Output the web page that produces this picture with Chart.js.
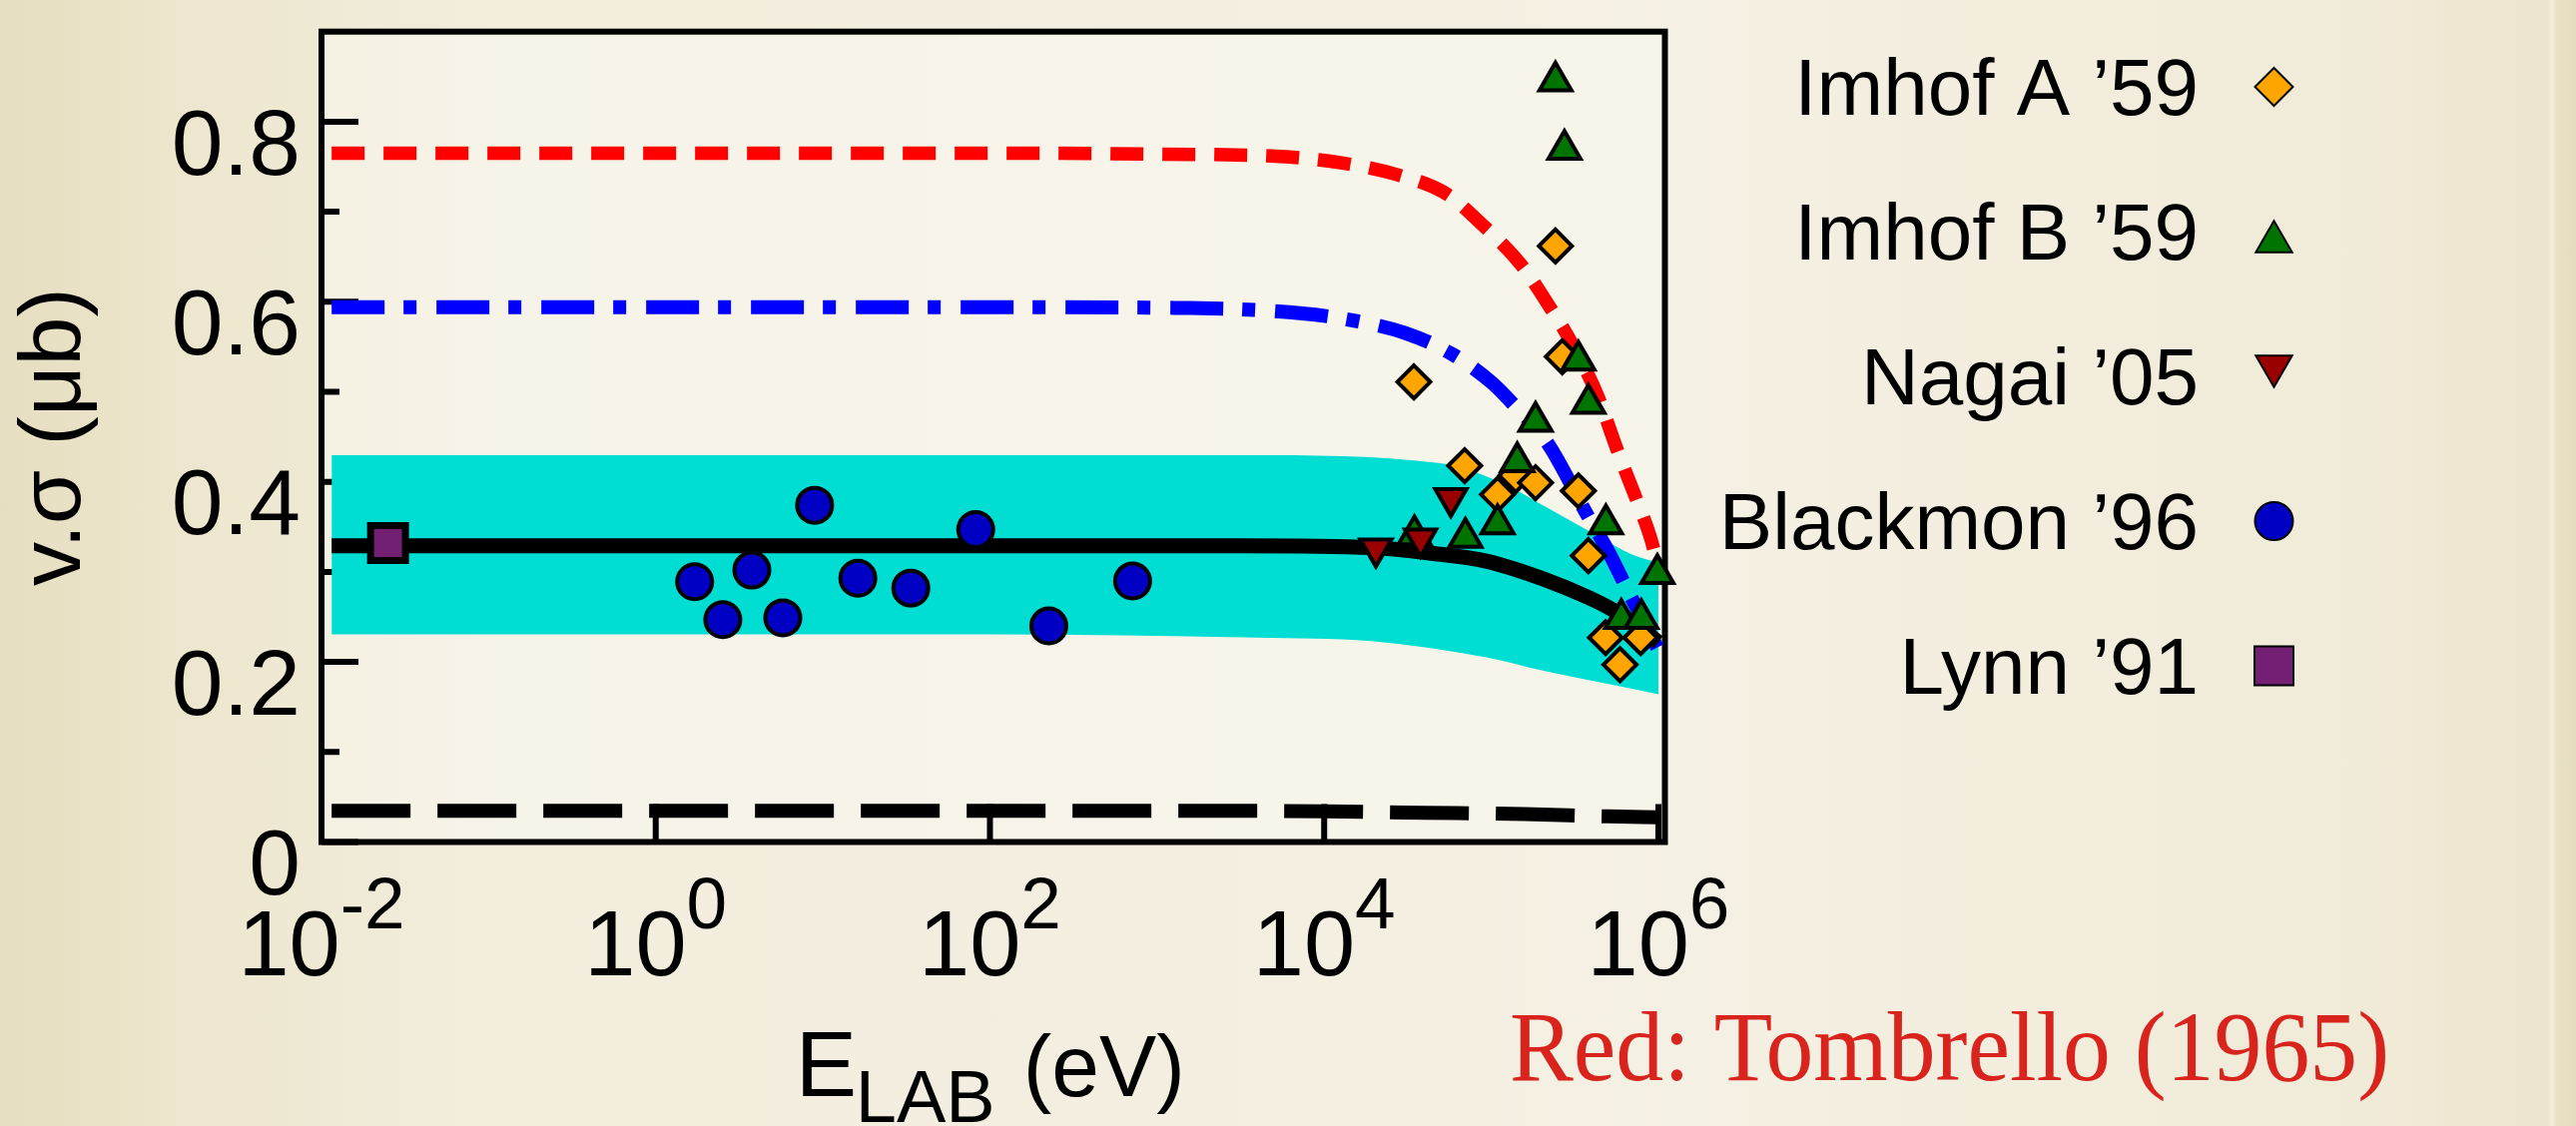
<!DOCTYPE html>
<html>
<head>
<meta charset="utf-8">
<script src="https://cdn.jsdelivr.net/npm/chart.js@4.4.1/dist/chart.umd.min.js"></script>
<style>
  html, body { margin: 0; padding: 0; }
  body {
    width: 2580px;
    height: 1128px;
    overflow: hidden;
    background: linear-gradient(90deg, #e6dec0 0px, #ede7cf 200px, #f2eddd 500px, #f4f0e3 1700px,
      #f0ead7 2400px, #ece5cd 2552px, #f4eedb 2556px, #e9e1c3 2561px, #e5dcbd 2580px);
  }
  #wrap { position: relative; width: 2580px; height: 1128px; }
</style>
</head>
<body>
<div id="wrap"><canvas id="sigmaChart"></canvas></div>
<script>
const sans = '"Liberation Sans", Arial, sans-serif'

// axis ticks
const xTickExps = [-2, 0, 2, 4, 6]
const yMajorTicks = [0, 0.2, 0.4, 0.6, 0.8]
const yMinorTicks = [0.1, 0.3, 0.5, 0.7]
const yTickLabels = ['0', '0.2', '0.4', '0.6', '0.8']

// measurements
const imhofAE = [3.44e4, 6.93e4, 1.09e5, 1.40e5, 1.84e5, 2.42e5, 2.66e5, 3.32e5, 3.81e5, 4.83e5, 5.89e5, 7.83e5]
const imhofAV = [0.511, 0.418, 0.386, 0.407, 0.399, 0.662, 0.539, 0.390, 0.318, 0.227, 0.197, 0.227]

const imhofBE = [3.47e4, 7.0e4, 1.09e5, 1.43e5, 1.84e5, 2.42e5, 2.74e5, 3.32e5, 3.81e5, 4.85e5, 6.0e5, 7.9e5, 9.86e5]
const imhofBV = [0.341, 0.338, 0.353, 0.422, 0.467, 0.845, 0.769, 0.535, 0.487, 0.353, 0.248, 0.248, 0.298]

const nagaiE = [2.04e4, 3.77e4, 5.73e4]
const nagaiV = [0.326, 0.337, 0.382]

const blackmonE = [1.71, 2.52, 3.76, 5.76, 8.93, 16.2, 33.6, 82.2, 225, 714]
const blackmonV = [0.289, 0.247, 0.302, 0.249, 0.374, 0.293, 0.282, 0.347, 0.240, 0.290]

const lynnE = [0.025]
const lynnV = [0.332]

// calculations
const redE = [0.0115, 1, 100, 1000, 5890, 12900, 27500, 53700, 89100, 151000, 224000, 299000, 432000, 568000, 748000, 897000, 1e6]
const redV = [0.765, 0.765, 0.765, 0.764, 0.761, 0.754, 0.741, 0.720, 0.685, 0.641, 0.594, 0.556, 0.496, 0.435, 0.378, 0.338, 0.305]

const blueE = [0.0115, 100, 1585, 7430, 15100, 30800, 58100, 101000, 131000, 217000, 376000, 494000, 682000, 984000]
const blueV = [0.594, 0.594, 0.593, 0.587, 0.579, 0.565, 0.542, 0.510, 0.489, 0.443, 0.363, 0.325, 0.273, 0.216]

const blackE = [0.0115, 3162, 19200, 42400, 93300, 206000, 387000, 531000, 708000, 1e6]
const blackV = [0.329, 0.329, 0.327, 0.321, 0.312, 0.292, 0.271, 0.258, 0.243, 0.222]

const dashedE = [0.0115, 3162, 1e4, 3.98e4, 1.58e5, 5.01e5, 1e6]
const dashedV = [0.0346, 0.0346, 0.034, 0.0325, 0.031, 0.0285, 0.0275]

const bandHighE = [0.0115, 3380, 47900, 109000, 217000, 432000, 679000, 1e6]
const bandHighV = [0.4295, 0.4295, 0.421, 0.401, 0.371, 0.340, 0.320, 0.310]
const bandLowE = [0.0115, 100, 3945, 19200, 93300, 206000, 454000, 1e6]
const bandLowV = [0.2307, 0.2307, 0.227, 0.223, 0.205, 0.190, 0.177, 0.164]

const legendLabels = ['Imhof A ’59', 'Imhof B ’59', 'Nagai ’05', 'Blackmon ’96', 'Lynn ’91']
const legendShapes = ['rectRot', 'triangle', 'triangleDown', 'circle', 'rect']
const legendColors = ['#ffa500', '#007400', '#990000', '#0000c4', '#731f73']

const pts = (xs, ys) => xs.map((x, i) => ({ x, y: ys[i] }))

const markers = (label, xs, ys, style, color, radius, extra) => Object.assign({
    label,
    data: pts(xs, ys),
    showLine: false,
    pointStyle: style,
    pointRadius: radius,
    pointBackgroundColor: color,
    pointBorderColor: '#000',
    pointBorderWidth: 4,
    clip: false
}, extra || {})

const curve = (label, xs, ys, color, width, dash, extra) => Object.assign({
    label,
    data: pts(xs, ys),
    borderColor: color,
    borderWidth: width,
    borderDash: dash,
    pointRadius: 0,
    cubicInterpolationMode: 'monotone',
    fill: false
}, extra || {})

const shapePath = (ctx, style, cx, cy, r) => {
    ctx.beginPath()
    if (style === 'circle') {
        ctx.arc(cx, cy, r, 0, Math.PI * 2)
    } else if (style === 'rect') {
        ctx.rect(cx - r, cy - r, 2 * r, 2 * r)
    } else if (style === 'rectRot') {
        ctx.moveTo(cx - r, cy); ctx.lineTo(cx, cy - r); ctx.lineTo(cx + r, cy); ctx.lineTo(cx, cy + r)
    } else {
        const s = style === 'triangle' ? 1 : -1
        const h = r * 1.5
        ctx.moveTo(cx, cy - s * h / 2)
        ctx.lineTo(cx + r * 0.866, cy + s * h / 2)
        ctx.lineTo(cx - r * 0.866, cy + s * h / 2)
    }
    ctx.closePath()
}

const decorations = {
    id: 'decorations',
    beforeDraw(chart) {
        const { ctx, chartArea: a } = chart
        ctx.save()
        ctx.fillStyle = 'rgba(250, 248, 240, 0.55)'
        ctx.fillRect(a.left, a.top, a.right - a.left, a.bottom - a.top)
        ctx.restore()
    },
    beforeDatasetsDraw(chart) {
        const { ctx, chartArea: a, scales: { x, y } } = chart
        ctx.save()
        ctx.strokeStyle = '#000'
        ctx.lineWidth = 6
        ctx.strokeRect(a.left, a.top, a.right - a.left, a.bottom - a.top)
        ctx.beginPath()
        yMajorTicks.forEach(v => {
            const py = y.getPixelForValue(v)
            ctx.moveTo(a.left, py); ctx.lineTo(a.left + 37, py)
        })
        yMinorTicks.forEach(v => {
            const py = y.getPixelForValue(v)
            ctx.moveTo(a.left, py); ctx.lineTo(a.left + 18, py)
        })
        xTickExps.forEach(e => {
            const px = x.getPixelForValue(Math.pow(10, e))
            ctx.moveTo(px, a.bottom); ctx.lineTo(px, a.bottom - 38)
        })
        ctx.stroke()
        ctx.restore()
    },
    afterDraw(chart) {
        const { ctx, chartArea: a, scales: { x } } = chart
        ctx.save()
        ctx.fillStyle = '#000'
        ctx.textBaseline = 'alphabetic'
        ctx.textAlign = 'left'

        // x tick labels, 10 with a raised exponent
        const baseFont = `92px ${sans}`
        const expFont = `73px ${sans}`
        xTickExps.forEach(e => {
            const px = x.getPixelForValue(Math.pow(10, e))
            const exp = String(e)
            ctx.font = baseFont
            const wb = ctx.measureText('10').width
            ctx.font = expFont
            const we = ctx.measureText(exp).width
            const left = px - (wb + we) / 2
            ctx.font = baseFont
            ctx.fillText('10', left, a.bottom + 133)
            ctx.font = expFont
            ctx.fillText(exp, left + wb, a.bottom + 86)
        })

        // x title with subscript
        const cx = (a.left + a.right) / 2
        ctx.font = `92px ${sans}`
        ctx.fillText('E', cx - 198, a.bottom + 254)
        ctx.font = `74px ${sans}`
        ctx.fillText('LAB', cx - 138, a.bottom + 280)
        ctx.font = `88px ${sans}`
        ctx.fillText('(eV)', cx + 30, a.bottom + 254, 162)

        // legend
        ctx.font = `80px ${sans}`
        ctx.textAlign = 'right'
        legendLabels.forEach((label, i) => {
            const mid = 86 + i * 145
            ctx.fillStyle = '#000'
            ctx.fillText(label, 2202, mid + 29)
            const style = legendShapes[i]
            let r = 19
            let cy = mid + 1
            if (style === 'triangle') { r = 21; cy = mid + 6 }
            if (style === 'triangleDown') { r = 21; cy = mid - 4 }
            if (style === 'rect') r = 19.5
            shapePath(ctx, style, 2277.5, cy, r)
            ctx.fillStyle = legendColors[i]
            ctx.fill()
            ctx.lineWidth = 2
            ctx.strokeStyle = '#000'
            ctx.stroke()
        })

        // note under the plot
        ctx.textAlign = 'left'
        ctx.fillStyle = '#d8241c'
        ctx.font = '100px "Liberation Serif", serif'
        ctx.fillText('Red: Tombrello (1965)', 1512, 1082, 881)
        ctx.restore()
    }
}

const data = {
    datasets: [
        markers('Nagai ’05', nagaiE, nagaiV, 'triangle', '#990000', 18, { pointRotation: 180 }),
        markers('Imhof B ’59', imhofBE, imhofBV, 'triangle', '#007400', 18.5),
        markers('Imhof A ’59', imhofAE, imhofAV, 'rectRot', '#ffa500', 16.5),
        markers('Blackmon ’96', blackmonE, blackmonV, 'circle', '#0000c4', 17.5),
        markers('Lynn ’91', lynnE, lynnV, 'rect', '#731f73', 24.7, { pointBorderWidth: 7 }),
        curve('black', blackE, blackV, '#000', 15, []),
        curve('black dashed', dashedE, dashedV, '#000', 14, [79, 27]),
        curve('blue', blueE, blueV, '#0000ff', 14, [53, 19, 13, 20]),
        curve('red', redE, redV, '#ff0000', 13.5, [33, 19]),
        curve('band high', bandHighE, bandHighV, 'rgba(0,0,0,0)', 0, [], { fill: '+1', backgroundColor: '#00ddd3' }),
        curve('band low', bandLowE, bandLowV, 'rgba(0,0,0,0)', 0, [])
    ]
}

const options = {
    responsive: true,
    maintainAspectRatio: false,
    devicePixelRatio: 1,
    animation: false,
    layout: { padding: { left: 0, top: 14.5, right: 912.5, bottom: 0 } },
    plugins: {
        legend: { display: false },
        tooltip: { enabled: false }
    },
    scales: {
        x: {
            type: 'logarithmic',
            min: 0.01,
            max: 1.094e6,
            afterBuildTicks: s => { s.ticks = xTickExps.map(e => ({ value: Math.pow(10, e) })) },
            afterFit: s => { s.height = 284.5; s.paddingLeft = 0; s.paddingRight = 0 },
            grid: { display: false, drawTicks: false },
            border: { display: false },
            ticks: { display: false }
        },
        y: {
            type: 'linear',
            min: 0,
            max: 0.9,
            afterBuildTicks: s => { s.ticks = yMajorTicks.map(v => ({ value: v })) },
            afterFit: s => { s.width = 322; s.paddingTop = 0; s.paddingBottom = 0 },
            grid: { display: false, drawTicks: false },
            border: { display: false },
            ticks: {
                padding: 21,
                labelOffset: 27,
                color: '#000',
                font: { family: sans, size: 93 },
                callback: (v, i) => yTickLabels[i]
            },
            title: {
                display: true,
                text: 'v.σ (μb)',
                color: '#000',
                font: { family: sans, size: 88 },
                padding: { top: 3, bottom: 0 }
            }
        }
    }
}

new Chart('sigmaChart', { type: 'line', data, options, plugins: [decorations] })
</script>
</body>
</html>
